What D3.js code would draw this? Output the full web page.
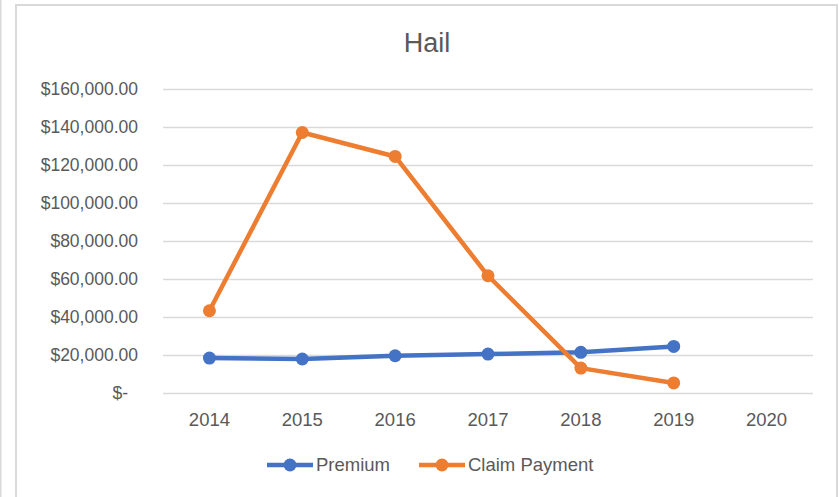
<!DOCTYPE html>
<html>
<head>
<meta charset="utf-8">
<script src="https://cdn.jsdelivr.net/npm/d3@7"></script>
<style>
  body { margin: 0; background: #ffffff; }
  text { font-family: "Liberation Sans", Arial, sans-serif; fill: #595959; }
</style>
</head>
<body>
<div id="chart"></div>
<script>
const years = ["2014", "2015", "2016", "2017", "2018", "2019", "2020"];
const premium = [18400, 17900, 19600, 20500, 21400, 24500];
const claimPayment = [43300, 137100, 124500, 61700, 13100, 5300];
const yTicks = [0, 20000, 40000, 60000, 80000, 100000, 120000, 140000, 160000];

const width = 839;
const height = 497;
const margin = { top: 89, right: 26, bottom: 104, left: 163 };

const series = [
  { name: "Premium", values: premium, color: "#4472C4" },
  { name: "Claim Payment", values: claimPayment, color: "#ED7D31" },
];

const svg = d3
  .select("#chart")
  .append("svg")
  .attr("width", width)
  .attr("height", height);

// chart frame
svg.append("line")
  .attr("x1", 0.75).attr("x2", 0.75)
  .attr("y1", 0).attr("y2", height)
  .style("stroke", "#d9d9d9").style("stroke-width", 1.5);
svg.append("rect")
  .attr("x", 16).attr("y", 5)
  .attr("width", 821).attr("height", height + 10)
  .style("fill", "#ffffff")
  .style("stroke", "#d9d9d9").style("stroke-width", 2);

const x = d3
  .scaleBand()
  .domain(years)
  .range([margin.left, width - margin.right]);

const y = d3
  .scaleLinear()
  .domain([0, 160000])
  .range([height - margin.bottom, margin.top]);

const money = (d) => (d === 0 ? "$-" : "$" + d3.format(",.2f")(d));

// gridlines
svg.append("g")
  .attr("transform", `translate(${margin.left},0)`)
  .call(d3.axisLeft(y).tickValues(yTicks).tickSize(-(width - margin.left - margin.right)).tickFormat(""))
  .call((g) => g.select(".domain").remove())
  .call((g) => g.selectAll("line").style("stroke", "#d9d9d9").style("stroke-width", 1.5));

// y axis labels
svg.append("g")
  .attr("transform", `translate(${margin.left},0)`)
  .call(d3.axisLeft(y).tickValues(yTicks).tickSize(0).tickPadding(25).tickFormat(money))
  .call((g) => g.select(".domain").remove())
  .call((g) =>
    g.selectAll("text")
      .style("font-size", "17.5px")
      .style("fill", "#595959")
      .attr("dx", (d) => (d === 0 ? -10 : 0))
  );

// x axis labels
svg.append("g")
  .attr("transform", `translate(0,${height - margin.bottom})`)
  .call(d3.axisBottom(x).tickSize(0).tickPadding(20))
  .call((g) => g.select(".domain").remove())
  .call((g) => g.selectAll("text").style("font-size", "18.5px").style("fill", "#595959"));

const cx = (i) => x(years[i]) + x.bandwidth() / 2;

const line = d3
  .line()
  .x((d, i) => cx(i))
  .y((d) => y(d));

series.forEach((s) => {
  svg.append("path")
    .attr("d", line(s.values))
    .style("fill", "none")
    .style("stroke", s.color)
    .style("stroke-width", 4.5)
    .style("stroke-linejoin", "round");

  svg.append("g")
    .selectAll("circle")
    .data(s.values)
    .enter()
    .append("circle")
    .attr("cx", (d, i) => cx(i))
    .attr("cy", (d) => y(d))
    .attr("r", 6.5)
    .style("fill", s.color);
});

// title
svg.append("text")
  .attr("x", 427)
  .attr("y", 52)
  .attr("text-anchor", "middle")
  .style("font-size", "27px")
  .text("Hail");

// legend
const legendX = [267, 419];
const legend = svg
  .selectAll(".legend")
  .data(series)
  .enter()
  .append("g")
  .attr("transform", (d, i) => `translate(${legendX[i]},465)`);

legend.append("line")
  .attr("x1", 0).attr("x2", 46)
  .style("stroke", (d) => d.color)
  .style("stroke-width", 4.5);
legend.append("circle")
  .attr("cx", 23).attr("r", 6.5)
  .style("fill", (d) => d.color);
legend.append("text")
  .attr("x", 49)
  .attr("dy", "0.35em")
  .style("font-size", "18.5px")
  .text((d) => d.name);
</script>
</body>
</html>
